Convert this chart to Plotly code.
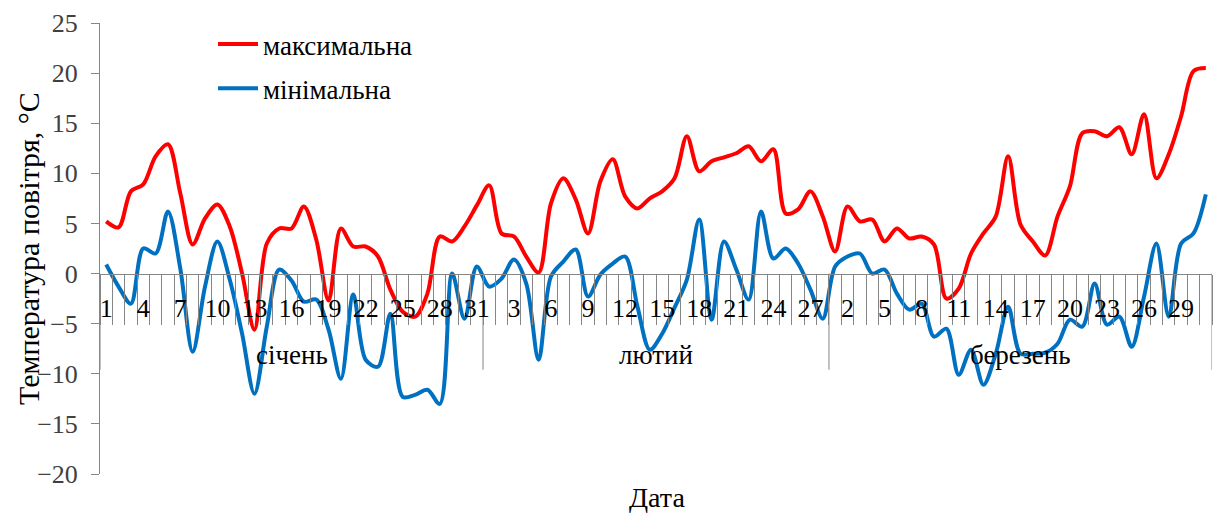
import plotly.graph_objects as go

# Months shown along the date axis and their lengths
months = ["січень", "лютий", "березень"]
days_in_month = [31, 28, 31]

# Daily maximum air temperature, °C (January, February, March)
t_max_jan = [5.2, 4.6, 8.2, 8.9, 11.7, 12.9, 8.0, 2.9, 5.5, 6.9, 4.7, 0.0, -5.6, 3.0, 4.5,
             4.5, 6.7, 3.4, -2.7, 4.5, 2.7, 2.7, 1.7, -1.6, -3.8, -4.3, -2.0, 3.7, 3.2, 4.7, 6.8]
t_max_feb = [8.8, 4.0, 3.7, 1.7, 0.1, 7.0, 9.5, 7.4, 4.0, 9.2, 11.4, 7.7, 6.5, 7.5,
             8.2, 9.5, 13.7, 10.2, 11.2, 11.6, 12.0, 12.7, 11.2, 12.4, 6.0, 6.4, 8.2, 5.7]
t_max_mar = [2.2, 6.7, 5.2, 5.4, 3.2, 4.5, 3.5, 3.7, 2.9, -2.5, -1.5, 2.0, 4.0, 5.7, 11.7,
             4.9, 3.2, 1.8, 5.7, 8.7, 14.0, 14.2, 13.7, 14.6, 11.9, 15.9, 9.5, 11.9, 15.7, 20.2, 20.5]

# Daily minimum air temperature, °C (January, February, March)
t_min_jan = [0.9, -1.3, -3.0, 2.5, 2.0, 6.2, 0.5, -7.8, -1.3, 3.2, -0.6, -6.0, -12.0, -5.3, 0.4,
             -0.7, -2.8, -2.6, -5.6, -10.5, -2.1, -8.6, -9.3, -4.0, -12.3, -12.1, -11.6, -13.0, 0.0, -4.5, 0.7]
t_min_feb = [-1.3, -0.5, 1.4, -1.0, -8.6, -0.3, 1.2, 2.4, -2.3, -0.1, 1.0, 1.7, -3.3, -7.6,
             -6.0, -3.4, -0.6, 5.4, -4.6, 3.2, 0.4, -2.6, 6.2, 1.5, 2.5, 1.0, -1.6, -4.5]
t_min_mar = [0.7, 1.7, 2.0, 0.0, 0.4, -2.0, -3.6, -3.0, -6.3, -5.5, -10.1, -7.6, -11.1, -8.0, -3.3,
             -8.0, -8.0, -7.9, -7.0, -4.6, -5.3, -1.0, -5.1, -4.3, -7.3, -2.3, 3.0, -4.3, 3.0, 4.0, 7.9]

t_max = t_max_jan + t_max_feb + t_max_mar
t_min = t_min_jan + t_min_feb + t_min_mar

# Day-of-month numbers for every position on the axis
day_numbers = [d for n in days_in_month for d in range(1, n + 1)]
x = list(range(len(day_numbers)))

# Every third day is labelled
label_step = 3
tick_vals = x[::label_step]
tick_text = [str(day_numbers[i]) for i in tick_vals]

# Boundaries between days (short ticks) and between months (long dividers)
day_bounds = [i - 0.5 for i in range(len(x) + 1)]
month_bounds = [-0.5]
for n in days_in_month:
    month_bounds.append(month_bounds[-1] + n)
month_centers = [(month_bounds[k] + month_bounds[k + 1]) / 2 for k in range(len(months))]

FONT = "Liberation Serif, Times New Roman, serif"
AXIS_GREY = "#868686"
Y_MIN, Y_MAX = -20, 25

W, H = 1214, 516
ML, MR, MT, MB = 100, 2, 23, 42
pw, ph = W - ML - MR, H - MT - MB


def px_to_paper(px, py):
    """Page pixel position -> paper coordinates of the plotting area."""
    return (px - ML) / pw, (H - MB - py) / ph


fig = go.Figure()
fig.add_trace(go.Scatter(
    x=x, y=t_max, mode="lines", name="максимальна", legendgroup="max",
    line=dict(color="#FF0000", width=4, shape="spline", smoothing=0.9),
))
fig.add_trace(go.Scatter(
    x=x, y=t_min, mode="lines", name="мінімальна", legendgroup="min",
    line=dict(color="#0070C0", width=4, shape="spline", smoothing=0.9),
))

# Long month dividers hanging below the zero line
for b in month_bounds:
    fig.add_shape(type="line", xref="x", yref="y", x0=b, x1=b, y0=0, y1=-9.6,
                  line=dict(color=AXIS_GREY, width=1), layer="below")

# Month names under the day labels
for name, c in zip(months, month_centers):
    fig.add_annotation(x=c, y=-8.1, xref="x", yref="y", text=name, showarrow=False,
                       font=dict(family=FONT, size=27, color="#000000"))

# Axis titles
ax, ay = px_to_paper(657, 497)
fig.add_annotation(x=ax, y=ay, xref="paper", yref="paper", text="Дата", showarrow=False,
                   xanchor="center", yanchor="middle",
                   font=dict(family=FONT, size=28, color="#000000"))
tx, ty = px_to_paper(28, 249)
fig.add_annotation(x=tx, y=ty, xref="paper", yref="paper", text="Температура повітря, °С",
                   textangle=-90, showarrow=False, xanchor="center", yanchor="middle",
                   font=dict(family=FONT, size=30, color="#000000"))

lx, ly = px_to_paper(213, 20)

fig.update_layout(
    width=W, height=H,
    margin=dict(l=ML, r=MR, t=MT, b=MB),
    paper_bgcolor="white", plot_bgcolor="white",
    font=dict(family=FONT, size=26, color="#000000"),
    showlegend=True,
    legend=dict(x=lx, y=ly, xanchor="left", yanchor="top",
                bgcolor="rgba(0,0,0,0)", tracegroupgap=6,
                font=dict(family=FONT, size=27, color="#000000"),
                itemwidth=40),
    xaxis=dict(
        range=[-0.5, len(x) - 0.5], anchor="free", position=(0 - Y_MIN) / (Y_MAX - Y_MIN),
        showline=True, linecolor=AXIS_GREY, linewidth=1,
        tickmode="array", tickvals=tick_vals, ticktext=tick_text,
        ticks="", ticklabelstandoff=11,
        tickfont=dict(family=FONT, size=26, color="#000000"),
        showgrid=False, zeroline=False,
        minor=dict(tickmode="array", tickvals=day_bounds, ticks="outside",
                   ticklen=50, tickcolor=AXIS_GREY, tickwidth=1, showgrid=False),
    ),
    yaxis=dict(
        range=[Y_MIN, Y_MAX], dtick=5, tick0=0,
        showline=True, linecolor=AXIS_GREY, linewidth=1,
        ticks="outside", ticklen=8, tickcolor=AXIS_GREY,
        tickfont=dict(family=FONT, size=26, color="#404040"),
        ticklabelstandoff=8,
        showgrid=False, zeroline=False,
    ),
)

fig.write_html("out.html")
